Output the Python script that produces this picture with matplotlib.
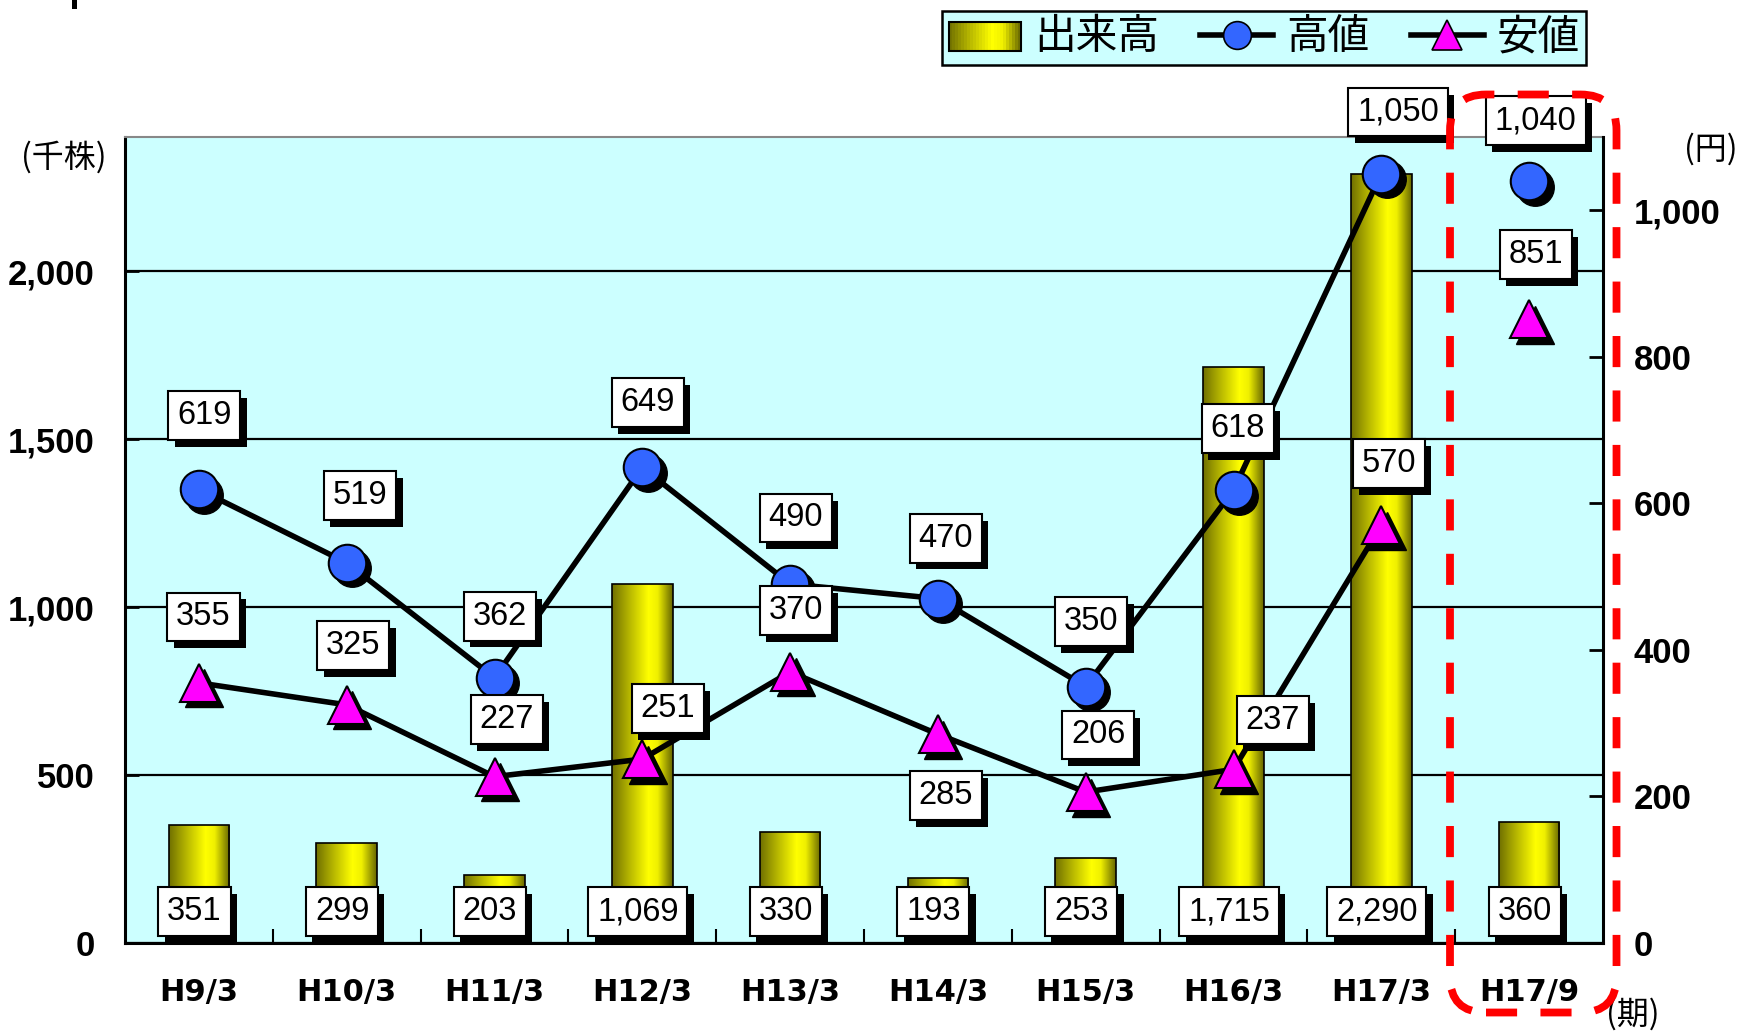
import numpy as np
import matplotlib
matplotlib.use("Agg")
import matplotlib.pyplot as plt
from matplotlib import font_manager
from matplotlib.patches import Rectangle, FancyBboxPatch
from matplotlib.legend_handler import HandlerBase
from matplotlib.lines import Line2D
from matplotlib.colors import LinearSegmentedColormap
import matplotlib.patheffects as pe
import matplotlib.transforms as mtransforms

# ---------------- data ----------------
categories = ["H9/3", "H10/3", "H11/3", "H12/3", "H13/3", "H14/3",
              "H15/3", "H16/3", "H17/3", "H17/9"]
volume = [351, 299, 203, 1069, 330, 193, 253, 1715, 2290, 360]     # 出来高 (千株)
high = [619, 519, 362, 649, 490, 470, 350, 618, 1050, 1040]         # 高値 (円)
low = [355, 325, 227, 251, 370, 285, 206, 237, 570, 851]            # 安値 (円)
left_ticks = [0, 500, 1000, 1500, 2000]
right_ticks = [0, 200, 400, 600, 800, 1000]
legend_labels = ["出来高", "高値", "安値"]

# label offsets (pixels, x right / y up) relative to each point
S = 1.119
high_off = [(5, 66), (12, 60), (5, 55), (5, 58), (5, 59), (7, 54), (5, 58), (4, 55), (15, 55), (6, 54)]
low_off = [(4, 59), (6, 53), (11, 51), (23, 45), (5, 55), (7, -55), (11, 51), (35, 44), (7, 55), (6, 58)]

# ---------------- fonts ----------------
names = {f.name for f in font_manager.fontManager.ttflist}
NUM_FONT = "Liberation Sans" if "Liberation Sans" in names else "DejaVu Sans"
TICK_FONT = NUM_FONT
plt.rcParams["font.family"] = ["Noto Sans CJK JP", "DejaVu Sans"]

BG = "#CCFFFF"
BLUE = "#3366FF"
MAGENTA = "#FF00FF"
bar_cmap = LinearSegmentedColormap.from_list(
    "cyl", [(0.0, "#707000"), (0.3, "#baba00"), (0.6, "#ffff00"),
            (0.75, "#f0f000"), (1.0, "#666600")])

fig = plt.figure(figsize=(17.55, 10.32), dpi=100)
W, H = 1755, 1032
ax = fig.add_axes([125 / W, 89 / H, 1478 / W, 806 / H])
ax.set_facecolor(BG)
ax2 = ax.twinx()

x = np.arange(len(categories))

# ---------------- bars ----------------
bars = ax.bar(x, volume, width=0.41, facecolor="none", edgecolor="black",
              linewidth=1.2, zorder=3)
grad = np.linspace(0, 1, 256).reshape(1, -1)
for rect in bars:
    x0, w, h = rect.get_x(), rect.get_width(), rect.get_height()
    im = ax.imshow(grad, cmap=bar_cmap, aspect="auto", extent=[x0, x0 + w, 0, h],
                   zorder=2, interpolation="bilinear")
    im.set_clip_path(rect)

ax.set_xlim(-0.5, len(categories) - 0.5)
ax.set_ylim(0, 2400)
ax2.set_ylim(0, 1100)

# grid
ax.set_axisbelow(True)
ax.yaxis.grid(True, color="black", linewidth=1.6)
ax.set_yticks(left_ticks)
ax.set_yticklabels([f"{t:,}" for t in left_ticks], fontfamily=TICK_FONT,
                   fontweight="bold", fontsize=25)
ax.tick_params(axis="y", direction="in", length=10, width=2, pad=22)
ax.set_xticks(x)
ax.set_xticklabels(categories, fontfamily="DejaVu Sans", fontweight="bold", fontsize=22)
ax.tick_params(axis="x", which="major", length=0, pad=25)
ax.set_xticks(np.arange(0.5, len(categories) - 0.5, 1), minor=True)
ax.tick_params(axis="x", which="minor", direction="in", length=10, width=1.5)

ax2.set_yticks(right_ticks)
ax2.set_yticklabels([f"{t:,}" for t in right_ticks], fontfamily=TICK_FONT,
                    fontweight="bold", fontsize=25)
ax2.tick_params(axis="y", direction="in", length=10, width=2, pad=22)

for s in ["left", "bottom"]:
    ax.spines[s].set_linewidth(2.2)
ax.spines["top"].set_color("#888888")
ax.spines["top"].set_linewidth(1.5)
ax.spines["right"].set_visible(False)
for s in ["left", "bottom", "top"]:
    ax2.spines[s].set_visible(False)
ax2.spines["right"].set_linewidth(2.2)

# ---------------- lines & markers ----------------
n_line = len(categories) - 1
ax2.plot(x[:n_line], high[:n_line], color="black", lw=4, zorder=3,
         solid_joinstyle="round")
ax2.plot(x[:n_line], low[:n_line], color="black", lw=4, zorder=3,
         solid_joinstyle="round")
shadow_tr = ax2.transData + mtransforms.ScaledTranslation(4 / 72, -4 / 72, fig.dpi_scale_trans)
ax2.plot(x, high, ls="none", marker="o", ms=27, mfc="black", mec="black",
         transform=shadow_tr, zorder=4)
ax2.plot(x, high, ls="none", marker="o", ms=27, mfc=BLUE, mec="black", mew=1.5, zorder=4.5)
ax2.plot(x, low, ls="none", marker="^", ms=28, mfc="black", mec="black",
         transform=shadow_tr, zorder=4)
ax2.plot(x, low, ls="none", marker="^", ms=28, mfc=MAGENTA, mec="black", mew=1.5, zorder=4.5)


def box_label(axis, text, xy, off):
    a = axis.annotate(text, xy=xy, xytext=(off[0] * S, off[1] * S),
                      textcoords="offset pixels", ha="center", va="center",
                      fontfamily=NUM_FONT, fontsize=23.5, zorder=7,
                      annotation_clip=False,
                      bbox=dict(boxstyle="square,pad=0.27", fc="white",
                                ec="black", lw=1.5))
    a.get_bbox_patch().set_path_effects(
        [pe.withSimplePatchShadow(offset=(4.5, -5), shadow_rgbFace="black", alpha=1.0)])
    return a


for i, v in enumerate(volume):
    box_label(ax, f"{v:,}", (i, 0), (-4, 28))
for i, v in enumerate(high):
    box_label(ax2, f"{v:,}", (i, v), high_off[i])
for i, v in enumerate(low):
    box_label(ax2, f"{v:,}", (i, v), low_off[i])


# ---------------- legend ----------------
class GradHandler(HandlerBase):
    def create_artists(self, legend, orig_handle, xdescent, ydescent, width,
                       height, fontsize, trans):
        arts = []
        n = 24
        y0 = -ydescent - height * 0.05
        hh = height * 1.0
        for k in range(n):
            arts.append(Rectangle((-xdescent + width * k / n, y0), width / n + 0.3, hh,
                                  facecolor=bar_cmap((k + 0.5) / n), edgecolor="none",
                                  transform=trans))
        arts.append(Rectangle((-xdescent, y0), width, hh, fill=False,
                              edgecolor="black", lw=1.5, transform=trans))
        return arts


bar_proxy = Rectangle((0, 0), 1, 1)
h_high = Line2D([], [], color="black", lw=4, marker="o", ms=20, mfc=BLUE, mec="black", mew=1.2)
h_low = Line2D([], [], color="black", lw=4, marker="^", ms=21, mfc=MAGENTA, mec="black", mew=1.2)
leg = fig.legend([bar_proxy, h_high, h_low], legend_labels,
                 handler_map={bar_proxy: GradHandler()},
                 loc="center", bbox_to_anchor=(1264 / W, 1 - 38 / H), ncol=3,
                 fontsize=30, frameon=True, fancybox=False, framealpha=1,
                 facecolor=BG, edgecolor="black", handlelength=1.75,
                 handletextpad=0.3, columnspacing=1.0, borderpad=0.15,
                 borderaxespad=0)
leg.get_frame().set_linewidth(1.8)

# ---------------- extra texts / shapes ----------------
fig.text(64 / W, 1 - 157 / H, "(千株)", ha="center", va="center", fontsize=23)
fig.text(1711 / W, 1 - 149 / H, "(円)", ha="center", va="center", fontsize=23)
fig.text(1633 / W, 1 - 1014 / H, "(期)", ha="center", va="center", fontsize=23)

fig.add_artist(Rectangle((72 / W, 1 - 9 / H), 5 / W, 9 / H, transform=fig.transFigure,
                         facecolor="black", edgecolor="none"))

red_box = FancyBboxPatch((14.50, 0.195), 1.665, 9.18,
                         boxstyle="round,pad=0,rounding_size=0.36",
                         transform=fig.dpi_scale_trans, fill=False,
                         edgecolor="#FF0000", linewidth=5.6, linestyle=(0, (4, 3)),
                         zorder=10)
fig.add_artist(red_box)

fig.savefig("out.png", dpi=100, facecolor="white")
